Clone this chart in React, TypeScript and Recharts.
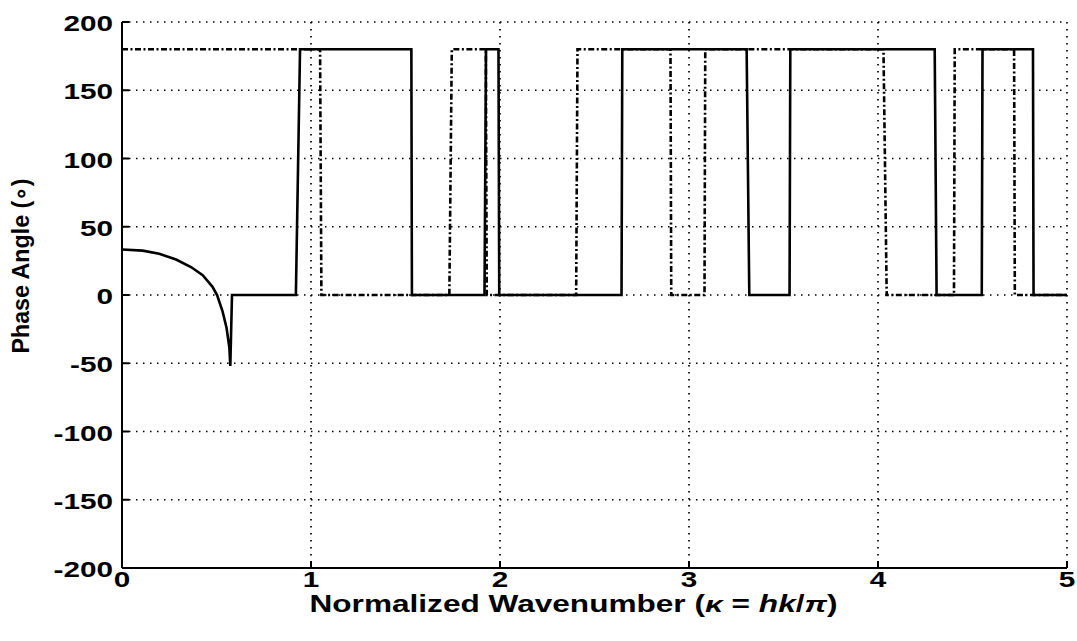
import { CartesianGrid, Line, LineChart, XAxis, YAxis } from "recharts";

// normalized wavenumber / phase angle (degrees), solid curve
const solidK = [
  0, 0.109, 0.197, 0.286, 0.365, 0.427, 0.479, 0.503, 0.532, 0.553, 0.568,
  0.573, 0.582, 0.92, 0.942, 1.531, 1.534, 1.918, 1.926, 1.992, 1.996, 2.643,
  2.647, 3.305, 3.319, 3.532, 3.536, 4.3, 4.31, 4.549, 4.553, 4.82, 4.823, 5,
];
const solidPhase = [
  33.3, 32.5, 30.2, 26, 20.5, 14.5, 6, 0, -12, -24, -38.5, -52, 0, 0, 180,
  180, 0, 0, 180, 180, 0, 0, 180, 180, 0, 0, 180, 180, 0, 0, 180, 180, 0, 0,
];

// dash-dot curve
const dashK = [
  0, 1.048, 1.055, 1.732, 1.745, 1.925, 1.93, 2.403, 2.41, 2.902, 2.906,
  3.082, 3.086, 4.029, 4.046, 4.402, 4.406, 4.72, 4.724, 5,
];
const dashPhase = [
  180, 180, 0, 0, 180, 180, 0, 0, 180, 180, 0, 0, 180, 180, 0, 0, 180, 180,
  0, 0,
];

const xTicks = [0, 1, 2, 3, 4, 5];
const yTicks = [-200, -150, -100, -50, 0, 50, 100, 150, 200];

const solidData = solidK.map((k, i) => ({ k, phase: solidPhase[i] }));
const dashData = dashK.map((k, i) => ({ k, phase: dashPhase[i] }));

const FONT = "'Liberation Sans', Arial, Helvetica, sans-serif";
const TICK_LEN = 7;

const LeftTick = (props: any) => {
  const { x, y, payload } = props;
  return (
    <g>
      <line x1={x} x2={x + TICK_LEN} y1={y} y2={y} stroke="#000" strokeWidth={2} />
      <text
        transform={`translate(${x - 9},${y + 9}) scale(1.35,1)`}
        textAnchor="end"
        fontFamily={FONT}
        fontWeight="bold"
        fontSize={22}
        fill="#000"
      >
        {payload.value}
      </text>
    </g>
  );
};

const BottomTick = (props: any) => {
  const { x, y, payload } = props;
  return (
    <g>
      <line x1={x} x2={x} y1={y} y2={y - TICK_LEN} stroke="#000" strokeWidth={2} />
      <text
        transform={`translate(${x},${y + 19}) scale(1.35,1)`}
        textAnchor="middle"
        fontFamily={FONT}
        fontWeight="bold"
        fontSize={22}
        fill="#000"
      >
        {payload.value}
      </text>
    </g>
  );
};

const TopTick = (props: any) => {
  const { x, y } = props;
  return <line x1={x} x2={x} y1={y} y2={y + TICK_LEN} stroke="#000" strokeWidth={2} />;
};

const RightTick = (props: any) => {
  const { x, y } = props;
  return <line x1={x} x2={x - TICK_LEN} y1={y} y2={y} stroke="#000" strokeWidth={2} />;
};

const XTitle = (props: any) => {
  const { viewBox } = props;
  const cx = viewBox.x + viewBox.width / 2 - 21;
  return (
    <text
      x={cx}
      y={viewBox.y + 44}
      textAnchor="middle"
      fontFamily={FONT}
      fontWeight="bold"
      fontSize={23}
      fill="#000"
      textLength={528}
      lengthAdjust="spacingAndGlyphs"
    >
      Normalized Wavenumber (
      <tspan fontStyle="italic">κ</tspan> = <tspan fontStyle="italic">hk</tspan>/
      <tspan fontStyle="italic">π</tspan>)
    </text>
  );
};

const YTitle = (props: any) => {
  const { viewBox } = props;
  const cy = viewBox.y + viewBox.height / 2 - 29;
  return (
    <text
      transform={`translate(29,${cy}) rotate(-90)`}
      textAnchor="middle"
      fontFamily={FONT}
      fontWeight="bold"
      fontSize={24}
      fill="#000"
      textLength={175}
      lengthAdjust="spacingAndGlyphs"
    >
      Phase Angle  (∘)
    </text>
  );
};

export default function App() {
  return (
    <div
      style={{
        position: "fixed",
        left: 0,
        top: 0,
        width: 1077,
        height: 641,
        background: "#fff",
      }}
    >
      <LineChart
        width={1077}
        height={641}
        margin={{ top: 22, right: 10, bottom: 0, left: 0 }}
      >
        <CartesianGrid
          stroke="#000"
          strokeWidth={1.7}
          strokeDasharray="1.5 5.5"
          horizontalValues={yTicks}
          verticalValues={xTicks}
        />
        <XAxis
          dataKey="k"
          type="number"
          domain={[0, 5]}
          ticks={xTicks}
          interval={0}
          height={73}
          tickSize={0}
          tickMargin={0}
          tickLine={false}
          axisLine={{ stroke: "#000", strokeWidth: 2 }}
          tick={<BottomTick />}
          label={<XTitle />}
        />
        <XAxis
          xAxisId="top"
          orientation="top"
          dataKey="k"
          type="number"
          domain={[0, 5]}
          ticks={xTicks}
          interval={0}
          height={0}
          tickSize={0}
          tickMargin={0}
          tickLine={false}
          axisLine={{ stroke: "#000", strokeWidth: 2 }}
          tick={<TopTick />}
        />
        <YAxis
          type="number"
          domain={[-200, 200]}
          ticks={yTicks}
          interval={0}
          width={122}
          tickSize={0}
          tickMargin={0}
          tickLine={false}
          axisLine={{ stroke: "#000", strokeWidth: 2 }}
          tick={<LeftTick />}
          label={<YTitle />}
        />
        <YAxis
          yAxisId="right"
          orientation="right"
          type="number"
          domain={[-200, 200]}
          ticks={yTicks}
          interval={0}
          width={0}
          tickSize={0}
          tickMargin={0}
          tickLine={false}
          axisLine={{ stroke: "#000", strokeWidth: 2 }}
          tick={<RightTick />}
        />
        <Line
          data={dashData}
          dataKey="phase"
          type="linear"
          stroke="#000"
          strokeWidth={2.6}
          strokeDasharray="6 2.5 2 2.5"
          dot={false}
          activeDot={false}
          isAnimationActive={false}
        />
        <Line
          data={solidData}
          dataKey="phase"
          type="linear"
          stroke="#000"
          strokeWidth={2.6}
          dot={false}
          activeDot={false}
          isAnimationActive={false}
        />
      </LineChart>
    </div>
  );
}
